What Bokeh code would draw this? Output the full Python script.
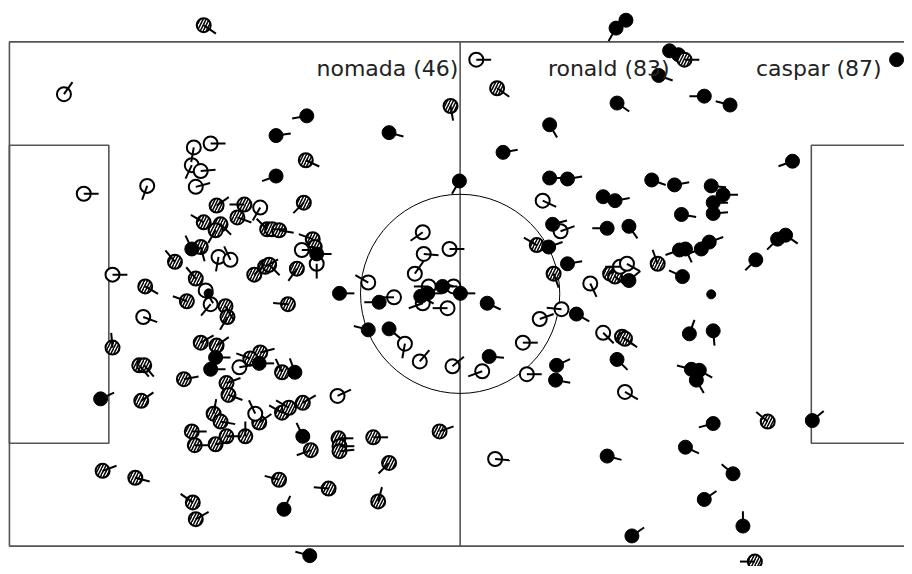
import numpy as np
from bokeh.plotting import figure
from bokeh.models import Range1d, Label
from bokeh.embed import file_html
from bokeh.resources import INLINE

# Pitch coordinates (units: pitch "pixels", origin top-left of view, y grows downwards)
# direction of each player's tail in degrees (0 = right, 90 = up)
nomada_x = [64, 212, 195, 193, 202, 197, 148, 84, 113, 144, 207, 212, 220, 232, 241, 262,
            304, 319, 371, 397, 426, 453, 427, 418, 432, 426, 451, 457, 408, 423, 456, 547,
            565, 595, 625, 632, 566, 544, 608, 527, 486, 531, 630, 499, 340, 257]
nomada_y = [95, 145, 149, 167, 173, 189, 188, 196, 278, 321, 294, 308, 260, 263, 372, 210,
            253, 267, 286, 301, 235, 252, 257, 277, 290, 307, 312, 290, 348, 366, 371, 203,
            234, 287, 270, 267, 313, 323, 337, 347, 376, 379, 397, 465, 401, 419]
nomada_dir = [55, 0, -100, -115, 5, 15, -110, 0, 0, -20, -60, -130, -100, 115, 10, -120,
              0, -90, 150, 180, -145, 0, -5, 55, 180, 200, 180, 160, -100, 50, 40, -25,
              20, -65, 180, -30, 175, 20, -45, 0, 200, 0, -30, -5, 25, 115]

ronald_x = [205, 308, 454, 501, 146, 113, 140, 145, 185, 218, 205, 222, 217, 202, 176, 197,
            188, 227, 229, 202, 218, 228, 306, 246, 239, 269, 274, 281, 315, 317, 256, 267,
            271, 299, 290, 262, 252, 284, 541, 558, 615, 620, 663, 627, 630, 142, 103, 136,
            194, 197, 193, 196, 217, 215, 222, 228, 230, 261, 284, 291, 305, 247, 313, 341,
            342, 342, 376, 443, 392, 281, 331, 381, 774, 761]
ronald_y = [25, 162, 107, 89, 290, 352, 370, 370, 384, 208, 225, 227, 233, 250, 265, 282,
            305, 310, 321, 347, 350, 388, 205, 207, 220, 232, 232, 233, 242, 250, 278, 270,
            268, 272, 308, 357, 363, 377, 248, 277, 277, 280, 267, 341, 343, 406, 477, 484,
            509, 526, 437, 451, 450, 419, 427, 442, 400, 428, 418, 413, 408, 442, 456, 444,
            452, 457, 443, 437, 469, 486, 495, 508, 427, 569]
ronald_dir = [-35, -25, -80, -35, -30, 95, -50, -50, 10, 35, 150, -45, -120, -75, 130, 130,
              160, -60, -120, 30, 35, 20, -135, 180, -20, 135, 0, -10, 160, 180, 45, 30,
              -45, -125, 175, 15, 160, 115, 150, -70, 30, -40, 110, -35, -35, 35, 20, -15,
              145, 30, 0, 0, 10, 80, -10, 0, -20, 35, 150, 150, 30, 90, 200, 0,
              0, 5, 0, 20, -135, 165, 175, 75, 140, 180]

caspar_x = [631, 621, 675, 684, 309, 278, 278, 392, 463, 554, 507, 622, 664, 554, 572, 657,
            680, 710, 736, 799, 717, 729, 608, 620, 719, 719, 687, 685, 691, 707, 715, 784,
            792, 762, 688, 717, 695, 719, 697, 705, 702, 557, 612, 634, 553, 572, 634, 464,
            491, 581, 493, 561, 560, 622, 612, 637, 719, 819, 691, 739, 710, 749, 342, 382,
            446, 424, 431, 371, 392, 193, 210, 217, 212, 261, 297, 305, 286, 312, 101, 319]
caspar_y = [20, 28, 51, 55, 117, 137, 178, 134, 183, 126, 154, 104, 76, 180, 181, 182,
            187, 97, 106, 163, 188, 197, 199, 203, 205, 216, 217, 253, 252, 252, 245, 242,
            238, 263, 280, 298, 338, 335, 374, 375, 385, 227, 231, 229, 250, 267, 284, 297,
            307, 318, 361, 370, 385, 364, 462, 543, 429, 426, 453, 480, 506, 533, 297, 306,
            290, 300, 297, 334, 333, 252, 297, 362, 374, 368, 377, 442, 516, 563, 404, 257]
caspar_dir = [-130, -120, -20, -30, 190, 8, 200, -15, -120, -60, 10, -35, -20, 0, 10, -20,
              10, 180, 165, 200, -5, 0, 0, 10, 0, 5, -10, 200, -65, 200, 20, -135,
              -35, -135, 155, np.nan, 70, -85, 165, -30, -60, 15, 180, -55, 20, 10, 40, 0,
              -25, -30, -5, 25, -10, -45, -15, 35, 195, 40, -25, 140, 35, 90, 0, 180,
              0, -30, 0, 165, -40, 115, np.nan, 0, 0, 0, 110, 115, 65, 165, 25, 0]
caspar_size = [14] * len(caspar_x)
caspar_size[35] = 9
caspar_size[70] = 9

legend_labels = ["nomada (46)", "ronald (83)", "caspar (87)"]

TAIL = 15
LINE = "#555555"
HATCH = dict(hatch_pattern="/", hatch_color="black", hatch_weight=1.5, hatch_scale=6)

p = figure(width=904, height=566, output_backend="svg", toolbar_location=None,
           x_range=Range1d(0, 912), y_range=Range1d(574, 0),
           x_axis_location=None, y_axis_location=None, min_border=0)
p.grid.visible = False
p.outline_line_color = None
p.background_fill_color = "white"

# pitch
p.quad(left=9, right=918.4, top=42, bottom=553.3, fill_color=None, line_color=LINE, line_width=1.6)
p.quad(left=9, right=109.3, top=146.8, bottom=449, fill_color=None, line_color=LINE, line_width=1.6)
p.quad(left=818, right=918.4, top=146.8, bottom=449, fill_color=None, line_color=LINE, line_width=1.6)
p.segment(x0=463.7, y0=42, x1=463.7, y1=553.3, line_color=LINE, line_width=1.6)
p.circle(x=463.7, y=297.5, radius=100.5, fill_color=None, line_color="black", line_width=1)


def tails(xs, ys, dirs):
    xs = np.asarray(xs, float)
    ys = np.asarray(ys, float)
    a = np.radians(np.asarray(dirs, float))
    return xs, ys, xs + TAIL * np.cos(a), ys - TAIL * np.sin(a)


# ronald: hatched
p.scatter(ronald_x, ronald_y, size=14, marker="circle", fill_color="white", line_color="black",
          line_width=2, **HATCH)
x0, y0, x1, y1 = tails(ronald_x, ronald_y, ronald_dir)
p.segment(x0, y0, x1, y1, line_color="black", line_width=2)

# nomada: open
p.scatter(nomada_x, nomada_y, size=14, marker="circle", fill_color="white", line_color="black", line_width=2)
x0, y0, x1, y1 = tails(nomada_x, nomada_y, nomada_dir)
p.segment(x0, y0, x1, y1, line_color="black", line_width=2)

# caspar: filled
p.scatter(caspar_x, caspar_y, size=caspar_size, marker="circle", fill_color="black", line_color="black", line_width=1)
x0, y0, x1, y1 = tails(caspar_x, caspar_y, caspar_dir)
p.segment(x0, y0, x1, y1, line_color="black", line_width=2)

# legend (label then symbol)
leg_text_x = [462, 675, 889]
leg_sym_x = [480, 690, 904]
leg_y = 60
for lab, tx in zip(legend_labels, leg_text_x):
    p.add_layout(Label(x=tx, y=68.5, text=lab, text_align="right", text_baseline="alphabetic",
                       text_font="DejaVu Sans", text_font_size="22px", text_color="#222222"))
p.scatter([leg_sym_x[0]], [leg_y], size=14, marker="circle", fill_color="white", line_color="black", line_width=2)
p.segment([leg_sym_x[0]], [leg_y], [leg_sym_x[0] + TAIL], [leg_y], line_color="black", line_width=2)
p.scatter([leg_sym_x[1]], [leg_y], size=14, marker="circle", fill_color="white", line_color="black",
          line_width=2, **HATCH)
p.segment([leg_sym_x[1]], [leg_y], [leg_sym_x[1] + TAIL], [leg_y], line_color="black", line_width=2)
p.scatter([leg_sym_x[2]], [leg_y], size=14, marker="circle", fill_color="black", line_color="black")

open("out.html", "w").write(file_html(p, INLINE))
